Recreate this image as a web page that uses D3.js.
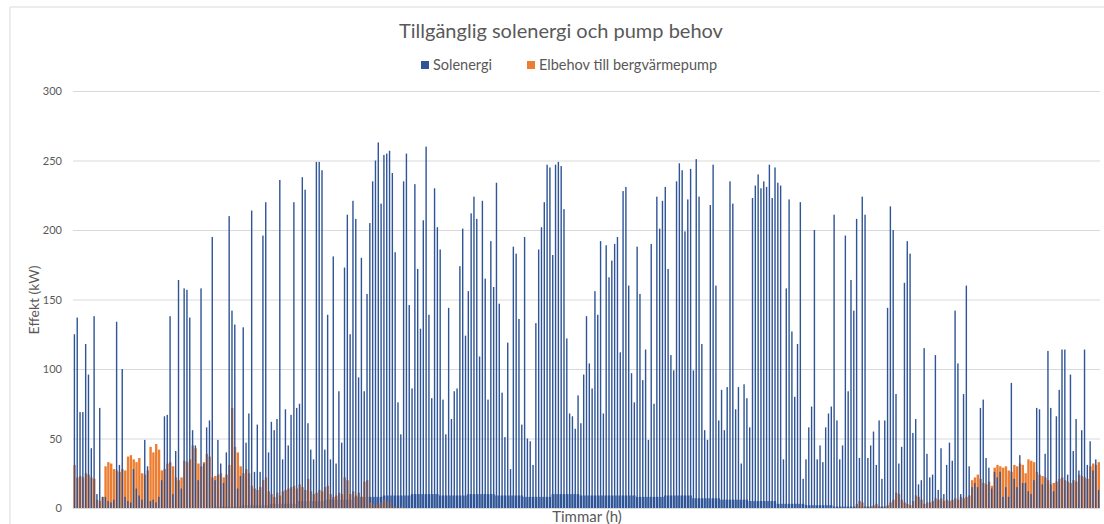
<!DOCTYPE html>
<html>
<head>
<meta charset="utf-8">
<script src="https://cdn.jsdelivr.net/npm/d3@7"></script>
<style>
  html, body { margin: 0; padding: 0; background: #ffffff; }
  svg { display: block; }
  text { font-family: Lato, "Open Sans", "Liberation Sans", sans-serif; fill: #595959; }
</style>
</head>
<body>
<svg id="chart" width="1104" height="524"></svg>
<script>
// ---- Data ----
const title = "Tillgänglig solenergi och pump behov";
const seriesNames = ["Solenergi", "Elbehov till bergvärmepump"];
const yTicks = [0, 50, 100, 150, 200, 250, 300];
const hoursPerDay = 24;
const totalHours = 8760;
const daysPerBlock = 10;

// Solenergi (kW), daily peak, day 0..364
const solar = [
  125,137,69,69,118,96,43,138,10,72,
  8,8,5,4,6,134,31,100,8,5,
  4,28,14,9,6,49,30,5,6,4,
  8,20,66,67,138,10,41,164,14,158,
  157,137,56,45,20,158,32,58,63,195,
  20,49,32,18,40,210,142,132,14,23,
  130,47,68,214,26,60,26,196,220,40,
  62,56,64,236,35,71,45,67,220,72,
  75,238,229,61,42,35,249,249,243,42,
  139,35,181,32,84,47,173,211,125,221,
  208,94,180,84,154,205,235,250,263,219,
  254,255,257,241,184,76,53,235,255,146,
  86,233,172,129,207,260,139,79,230,202,
  186,78,53,144,64,84,86,174,201,124,
  156,212,224,208,109,221,165,78,192,159,
  234,147,83,51,119,28,188,183,136,60,
  195,50,48,31,133,186,202,220,247,245,
  182,247,249,246,215,122,68,66,57,81,
  61,96,138,104,86,156,139,192,68,189,
  166,178,190,195,112,228,231,160,97,76,
  188,154,92,114,49,190,75,224,201,221,
  231,172,110,99,235,248,243,199,222,244,
  99,251,224,118,56,49,218,247,160,63,
  85,56,87,235,219,71,87,32,89,79,
  58,223,232,240,230,235,231,247,223,245,
  234,232,35,158,222,127,80,118,220,21,
  35,58,73,200,35,45,33,58,68,73,
  211,63,35,45,196,84,164,142,208,36,
  224,211,36,45,55,31,63,21,63,144,
  217,200,82,32,44,162,192,183,54,64,
  17,20,115,39,22,24,110,13,43,10,
  31,47,34,142,104,10,82,160,30,15,
  18,15,72,78,36,29,14,26,22,26,
  8,15,8,90,21,15,38,18,18,12,
  10,20,72,71,17,39,113,72,12,66,
  85,114,114,24,96,41,64,27,56,114,
  31,48,27,35,13
];

// Solenergi (kW): height of the dense low-level fill, per 10-day block (blocks 0..36)
const solarBase = [
  0,0,0,0,0,1,2,3,5,6,
  8,9,10,9,10,9,8,10,9,9,
  8,9,7,6,5,3,2,1,1,0,
  0,0,0,0,0,0,0
];

// Elbehov till bergvärmepump (kW), daily level, day 0..364
const pump = [
  31,22,23,22,25,24,22,21,6,5,
  8,30,33,32,28,27,26,28,27,37,
  38,35,33,36,25,24,27,44,40,46,
  42,27,28,32,33,30,22,20,22,34,
  33,35,45,43,32,30,33,39,37,22,
  23,24,25,22,24,31,72,44,40,30,
  25,28,25,16,14,13,15,20,22,12,
  10,8,11,9,12,13,14,15,16,14,
  17,15,13,21,12,10,11,13,12,15,
  16,10,8,9,11,10,22,20,10,12,
  9,11,8,19,20,4,3,2,3,4,
  6,5,4,1,1,0,1,0,0,0,
  0,0,0,0,0,0,0,0,0,0,
  0,0,0,0,0,0,0,0,0,0,
  0,0,0,0,0,0,0,0,0,0,
  0,0,0,0,0,0,0,0,0,0,
  0,0,0,0,0,0,0,0,0,0,
  0,0,0,0,0,0,0,0,0,0,
  0,0,0,0,0,0,0,0,0,0,
  0,0,0,0,0,0,0,0,0,0,
  0,0,0,0,0,0,0,0,0,0,
  0,0,0,0,0,0,0,0,0,0,
  0,0,0,0,0,0,0,0,0,0,
  0,0,0,0,0,0,0,0,0,0,
  0,0,0,0,0,0,0,0,0,0,
  0,0,0,0,0,0,0,0,0,0,
  0,0,0,0,0,0,0,0,0,0,
  0,0,0,0,0,0,0,0,3,5,
  4,1,0,1,2,3,1,0,1,2,
  4,6,11,10,6,4,3,2,5,9,
  8,6,3,4,4,5,7,6,7,5,
  6,5,6,7,6,8,7,8,9,20,
  22,24,21,18,17,19,16,29,31,30,
  29,30,27,26,31,30,32,31,25,35,
  34,33,26,24,23,22,20,17,18,19,
  21,22,20,19,18,20,19,24,23,22,
  21,30,32,31,33
];

const colors = ["#2f5597", "#ed7d31"];

// ---- Layout ----
const svg = d3.select("#chart");
const W = 1104, H = 524;
const margin = { left: 73, right: 4, top: 91, bottom: 16 };
const plotBottom = H - margin.bottom; // 508

svg.append("rect").attr("width", W).attr("height", H).attr("fill", "#ffffff");

// faint chart-area border
svg.append("path")
  .attr("d", `M10,${H} L10,7 L${W},7`)
  .attr("fill", "none").attr("stroke", "#d9d9d9").attr("stroke-width", 1);

const x = d3.scaleLinear().domain([0, totalHours]).range([margin.left, W - margin.right]);
const y = d3.scaleLinear().domain([0, 300]).range([plotBottom, margin.top]);

// gridlines + y-axis labels
const yAxis = d3.axisLeft(y).tickValues(yTicks).tickSize(-(W - margin.right - margin.left)).tickPadding(11);
const gy = svg.append("g").attr("transform", `translate(${margin.left},0)`).call(yAxis);
gy.select(".domain").remove();
gy.selectAll(".tick line").attr("stroke", "#d9d9d9").attr("stroke-width", 1);
gy.selectAll(".tick text").attr("fill", "#595959").style("font-size", "11px")
  .style("font-family", "Lato, 'Open Sans', sans-serif");

const dayW = x(hoursPerDay) - x(0);
const baseOf = i => Math.min(solarBase[Math.floor(i / daysPerBlock)], solar[i]);

// dense low-level solar fill
svg.append("g").selectAll("rect").data(d3.range(solar.length)).join("rect")
  .attr("x", i => x(i * hoursPerDay) + dayW * 0.1)
  .attr("width", dayW * 0.8)
  .attr("y", i => y(baseOf(i)))
  .attr("height", i => y(0) - y(baseOf(i)))
  .attr("fill", colors[0]);

// pump series (orange)
svg.append("g").selectAll("rect").data(pump).join("rect")
  .attr("x", (d, i) => x(i * hoursPerDay) + dayW * 0.15)
  .attr("width", dayW * 0.85)
  .attr("y", d => y(d))
  .attr("height", d => y(0) - y(d))
  .attr("fill", colors[1]);

// solar series (blue), daily peaks
svg.append("g").selectAll("rect").data(solar).join("rect")
  .attr("x", (d, i) => x(i * hoursPerDay + 12) - 0.7)
  .attr("width", 1.4)
  .attr("y", d => y(d))
  .attr("height", d => y(0) - y(d))
  .attr("fill", colors[0]);

// title
svg.append("text").attr("x", 561).attr("y", 38).attr("text-anchor", "middle")
  .style("font-size", "20px").text(title);

// legend
const legendX = [421, 527];
seriesNames.forEach((name, i) => {
  svg.append("rect").attr("x", legendX[i]).attr("y", 61).attr("width", 8).attr("height", 8).attr("fill", colors[i]);
  svg.append("text").attr("x", legendX[i] + 12).attr("y", 69.5).style("font-size", "14.5px").text(name);
});

// axis titles
svg.append("text").attr("transform", "translate(39,300) rotate(-90)").attr("text-anchor", "middle")
  .style("font-size", "14px").text("Effekt (kW)");
svg.append("text").attr("x", 587).attr("y", 522).attr("text-anchor", "middle")
  .style("font-size", "15px").text("Timmar (h)");
</script>
</body>
</html>
